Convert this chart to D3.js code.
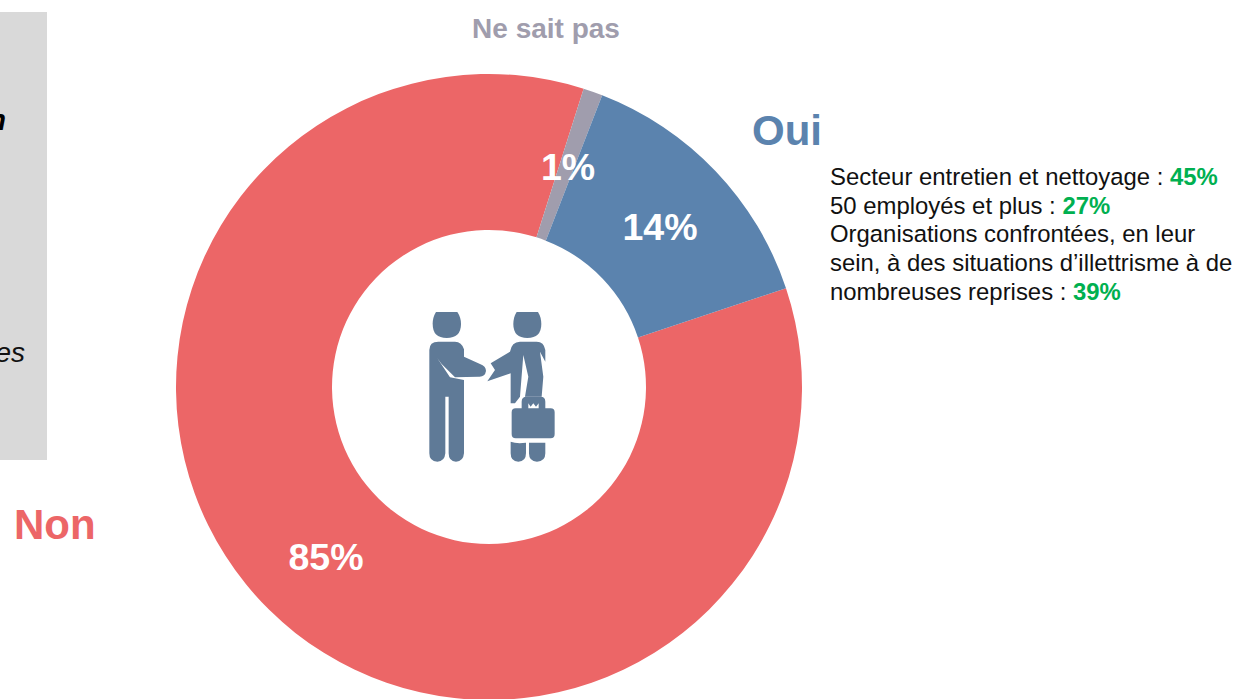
<!DOCTYPE html>
<html><head><meta charset="utf-8">
<script src="https://cdn.jsdelivr.net/npm/d3@7"></script>
<style>html,body{margin:0;padding:0;background:#fff;overflow:hidden}svg{display:block;font-family:"Liberation Sans",Arial,sans-serif}</style>
</head><body><svg id="c" width="1236" height="699"></svg>
<script>
const categories = ["Non","Ne sait pas","Oui"];
const values = [85,1,14];
const valueLabels = ["85%","1%","14%"];
const colors = ["#EC6667","#A09DAD","#5B83AE"];
const detailLines = [
  [["Secteur entretien et nettoyage : ",0],["45%",1]],
  [["50 employés et plus : ",0],["27%",1]],
  [["Organisations confrontées, en leur",0]],
  [["sein, à des situations d’illettrisme à de",0]],
  [["nombreuses reprises : ",0],["39%",1]]
];
const svg = d3.select("#c");
const cx=489, cy=387, R=313, r=157;
svg.append("rect").attr("x",0).attr("y",12).attr("width",47).attr("height",448).attr("fill","#D9D9D9");
svg.append("text").attr("x",6).attr("y",130).attr("text-anchor","end").attr("font-size",29).attr("font-style","italic").attr("font-weight","bold").attr("fill","#000").text("n");
svg.append("text").attr("x",25).attr("y",362).attr("text-anchor","end").attr("font-size",28).attr("font-style","italic").attr("fill","#111").text("es");
const start = 71.6*Math.PI/180;
const pie = d3.pie().sort(null).value(d=>d).startAngle(start).endAngle(start+2*Math.PI);
const arc = d3.arc().innerRadius(r).outerRadius(R);
const g = svg.append("g").attr("transform",`translate(${cx},${cy})`);
g.selectAll("path").data(pie(values)).join("path").attr("d",arc).attr("fill",(d,i)=>colors[i]);
const labelPos=[[326,558],[568,168],[660,228]];
svg.selectAll("text.v").data(valueLabels).join("text").attr("class","v")
  .attr("x",(d,i)=>labelPos[i][0]).attr("y",(d,i)=>labelPos[i][1]+12)
  .attr("text-anchor","middle").attr("font-size",37.5).attr("font-weight","bold").attr("fill","#fff").text(d=>d);
svg.append("text").attr("x",14).attr("y",539).attr("font-size",42).attr("font-weight","bold").attr("fill",colors[0]).text(categories[0]);
svg.append("text").attr("x",752).attr("y",145).attr("font-size",42).attr("font-weight","bold").attr("fill",colors[2]).text(categories[2]);
svg.append("text").attr("x",546).attr("y",38).attr("text-anchor","middle").attr("font-size",28).attr("font-weight","bold").attr("fill",colors[1]).text(categories[1]);
const t = svg.append("g");
detailLines.forEach((line,i)=>{
  const tx=t.append("text").attr("x",830).attr("y",185+i*28.7).attr("font-size",23.9).attr("fill","#111");
  line.forEach(([s,b])=>tx.append("tspan").text(s).attr("font-weight",b?"bold":"normal").attr("fill",b?"#00B050":"#111"));
});
const icon = svg.append("g").attr("fill","#5F7A97").attr("transform","translate(400,290) scale(0.3333)");
icon.append("path").attr("d","M108 66 H172 Q183 82 183 102 Q183 144 140 144 Q98 144 98 102 Q98 82 108 66 Z");
icon.append("path").attr("d","M350 66 H414 Q424 82 424 102 Q424 144 382 144 Q340 144 340 102 Q340 82 350 66 Z");
icon.append("path").attr("d","M115 155 H165 Q185 155 192 178 V200 L240 222 Q258 228 258 243 Q255 262 235 260 L165 262 L125 222 L112 205 L150 262 L192 270 V490 Q190 515 168 515 Q146 515 146 490 V320 H136 V490 Q134 515 112 515 Q88 515 88 490 V180 Q88 155 115 155 Z");
icon.append("path").attr("d","M360 155 H410 Q432 155 436 180 V215 L420 185 L430 260 L425 320 H375 L385 260 L370 195 L360 320 L345 340 H332 V250 L262 274 L285 240 L272 220 L330 185 Q335 155 360 155 Z");
icon.append("path").attr("fill-rule","evenodd").attr("d","M365 355 V335 Q365 320 380 320 H422 Q436 320 436 335 V355 H452 Q464 355 464 367 V432 Q464 445 452 445 H347 Q335 445 335 432 V367 Q335 355 347 355 Z M385 355 H416 V340 L408 350 L400 340 L392 350 L385 340 Z");
icon.append("path").attr("d","M332 455 Q350 462 378 458 V490 Q378 515 355 515 Q332 515 332 490 Z M387 458 H436 V490 Q436 515 411 515 Q387 515 387 490 Z");
</script></body></html>
